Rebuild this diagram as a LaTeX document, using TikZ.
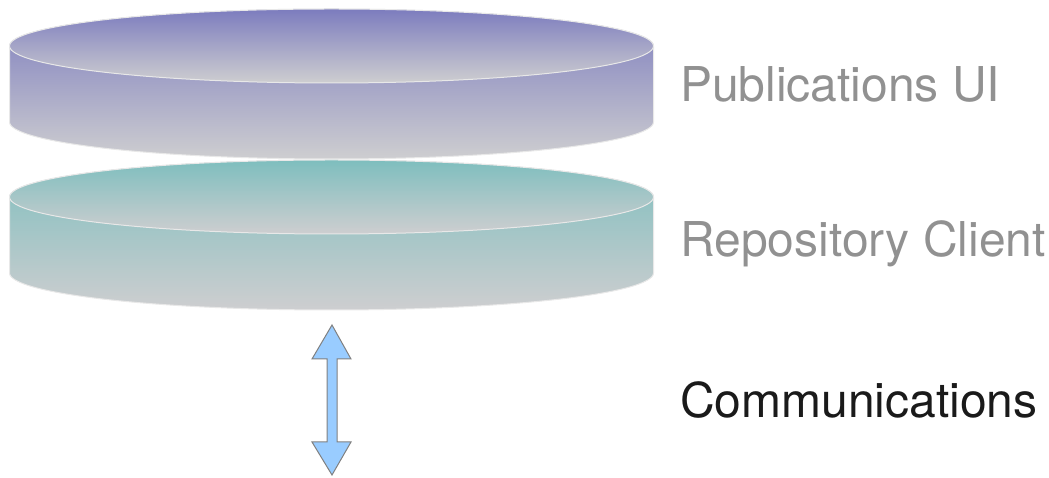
\documentclass[tikz,border=0pt]{standalone}
\usepackage{fontspec}
\setmainfont{TeX Gyre Heros}
\definecolor{purp}{RGB}{124,124,190}
\definecolor{teal1}{RGB}{126,190,190}
\definecolor{gry}{RGB}{206,206,208}
\definecolor{edgec}{RGB}{232,232,232}
\definecolor{lbl}{RGB}{145,145,145}
\definecolor{dark}{RGB}{26,26,26}
\definecolor{arrfill}{RGB}{153,204,255}
\definecolor{arredge}{RGB}{128,128,128}
\tikzset{
  layerlabel/.style={anchor=base west, inner sep=0pt, font=\fontsize{48}{50}\selectfont},
  cyledge/.style={draw=edgec, line width=1pt},
}
\begin{document}
\begin{tikzpicture}[x=1pt,y=1pt]
\useasboundingbox (0,0) rectangle (1049,478);
% ---- purple cylinder (Publications UI)
\path[cyledge, top color=purp, bottom color=gry]
  (9.5,432) -- (9.5,356) arc[start angle=180,end angle=360,x radius=322pt,y radius=37pt]
  -- (653.5,432) arc[start angle=0,end angle=180,x radius=322pt,y radius=37pt] -- cycle;
\path[cyledge, top color=purp, bottom color=gry]
  (331.5,432) ellipse[x radius=322pt, y radius=37pt];
% ---- teal cylinder (Repository Client)
\path[cyledge, top color=teal1, bottom color=gry]
  (9.5,281) -- (9.5,205) arc[start angle=180,end angle=360,x radius=322pt,y radius=37pt]
  -- (653.5,281) arc[start angle=0,end angle=180,x radius=322pt,y radius=37pt] -- cycle;
\path[cyledge, top color=teal1, bottom color=gry]
  (331.5,281) ellipse[x radius=322pt, y radius=37pt];
% ---- double arrow (Communications)
\filldraw[fill=arrfill, draw=arredge, line width=1pt, line join=miter]
  (332,153) -- (351,119) -- (337,119) -- (337,36) -- (351,36) -- (332,3)
  -- (312,36) -- (327,36) -- (327,119) -- (312,119) -- cycle;
% ---- labels
\node[layerlabel, text=lbl] (pub) at (680,376) {Publications UI};
\node[layerlabel, text=lbl] (repo) at (680,221) {Repository Client};
\node[layerlabel, text=dark] (comm) at (680,60) {Communications};
\end{tikzpicture}
\end{document}
